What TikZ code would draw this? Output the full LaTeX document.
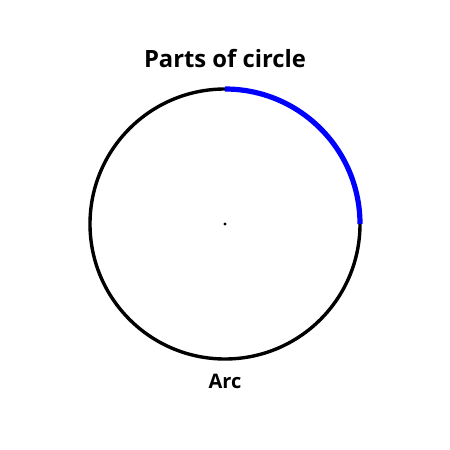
\documentclass[tikz,border=0pt]{standalone}
\usepackage{fontspec}
\setmainfont{Open Sans}
\begin{document}
\begin{tikzpicture}[x=1pt,y=1pt,
  ring/.style={draw=black,line width=3.4pt},
  arcpart/.style={draw=blue,line width=5.2pt},
  lbl/.style={font=\bfseries,inner sep=0pt}]
\useasboundingbox (0,0) rectangle (450,-450);
\coordinate (o) at (225,-224);
\draw[ring] (o) circle[radius=135];
\draw[arcpart] ([shift={(90:135)}]o) arc[start angle=90,end angle=0,radius=135];
\fill (o) circle[radius=1.7];
\node[lbl,font=\bfseries\fontsize{23.8}{26}\selectfont] (title) at (225,-59) {Parts of circle};
\node[lbl,font=\bfseries\fontsize{20}{22}\selectfont] (arc) at (225,-381) {Arc};
\end{tikzpicture}
\end{document}
